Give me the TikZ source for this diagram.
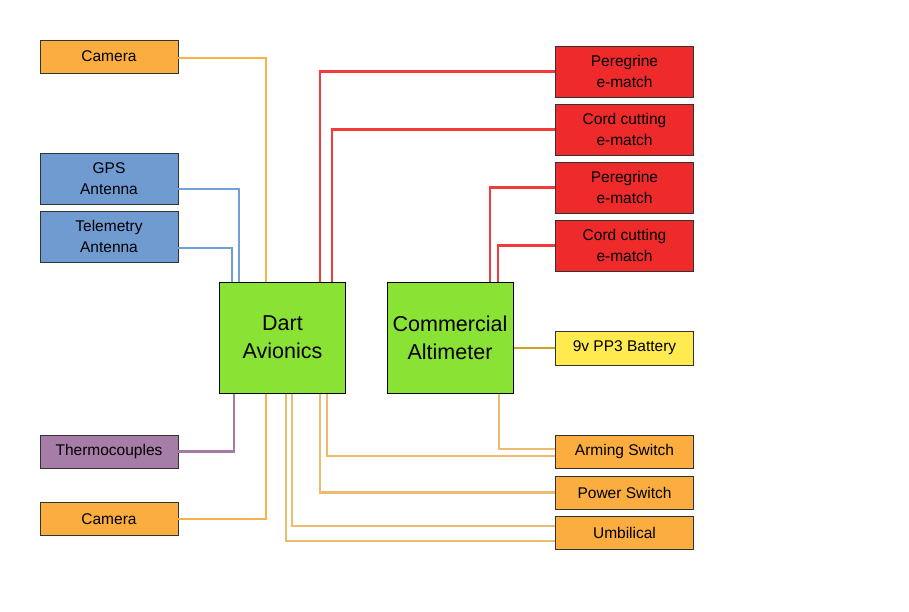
\documentclass[tikz,border=0pt]{standalone}
\usepackage{fontspec}
\setmainfont{Liberation Sans}
\usepackage{tikz}
\definecolor{boxorange}{HTML}{FBAD3F}
\definecolor{boxblue}{HTML}{6F9BD1}
\definecolor{boxred}{HTML}{EE2A2A}
\definecolor{boxgreen}{HTML}{8AE234}
\definecolor{boxpurple}{HTML}{A67DA6}
\definecolor{boxyellow}{HTML}{FFEB4F}
\definecolor{lineorange}{HTML}{FBB24A}
\definecolor{linetan}{HTML}{EDBB6E}
\definecolor{lineblue}{HTML}{6FA0D8}
\definecolor{linered}{HTML}{F23A3A}
\definecolor{linegold}{HTML}{C9A21E}
\definecolor{linepurple}{HTML}{A679A8}

\begin{document}
\begin{tikzpicture}[x=1pt,y=-1pt,
	part_node/.style={draw=black!80,line width=0.9pt,minimum width=138pt,inner sep=0pt,align=center,font=\fontsize{15.5}{21}\selectfont},
	main_node/.style={draw=black,line width=0.9pt,fill=boxgreen,minimum width=126pt,minimum height=111pt,inner sep=0pt,align=center,font=\fontsize{21.5}{28}\selectfont},
	wire/.style={line width=2.1pt}]

	\useasboundingbox (0,0) rectangle (909,612);

	% main units
	\node[main_node] (dart) at (282.5,337.5) {Dart\\Avionics};
	\node[main_node] (alt) at (450,337.5) {Commercial\\Altimeter};

	% left side
	\node[part_node,fill=boxorange,minimum height=33pt] (cam1) at (109,56.5) {Camera};
	\node[part_node,fill=boxblue,minimum height=51pt] (gps) at (109,178.5) {GPS\\Antenna};
	\node[part_node,fill=boxblue,minimum height=51pt] (tlm) at (109,236.5) {Telemetry\\Antenna};
	\node[part_node,fill=boxpurple,minimum height=33pt] (thermo) at (109,451.5) {Thermocouples};
	\node[part_node,fill=boxorange,minimum height=33pt] (cam2) at (109,519) {Camera};

	% right side
	\node[part_node,fill=boxred,minimum height=51pt] (per1) at (624.5,71.5) {Peregrine\\e-match};
	\node[part_node,fill=boxred,minimum height=51pt] (cord1) at (624.5,129.5) {Cord cutting\\e-match};
	\node[part_node,fill=boxred,minimum height=51pt] (per2) at (624.5,187.5) {Peregrine\\e-match};
	\node[part_node,fill=boxred,minimum height=51pt] (cord2) at (624.5,245.5) {Cord cutting\\e-match};
	\node[part_node,fill=boxyellow,minimum height=34pt] (batt) at (624.5,348) {9v PP3 Battery};
	\node[part_node,fill=boxorange,minimum height=33pt] (arm) at (624.5,451.5) {Arming Switch};
	\node[part_node,fill=boxorange,minimum height=33pt] (pwr) at (624.5,492.5) {Power Switch};
	\node[part_node,fill=boxorange,minimum height=33pt] (umb) at (624.5,532.5) {Umbilical};

	% where the wires meet the units
	\coordinate (d_cam1) at (266,282);
	\coordinate (d_gps) at (239,282);
	\coordinate (d_tlm) at (232,282);
	\coordinate (d_per) at (320,282);
	\coordinate (d_cord) at (332,282);
	\coordinate (a_per) at (490,282);
	\coordinate (a_cord) at (498,282);
	\coordinate (d_thermo) at (234,393);
	\coordinate (d_cam2) at (266,393);
	\coordinate (d_arm) at (327,393);
	\coordinate (a_arm) at (499,393);
	\coordinate (d_pwr) at (320,393);
	\coordinate (d_umb1) at (292,393);
	\coordinate (d_umb2) at (286,393);

	\draw[wire,lineorange] ([yshift=-1.5pt]cam1.east) -| (d_cam1);
	\draw[wire,lineblue] ([yshift=-10.5pt]gps.east) -| (d_gps);
	\draw[wire,lineblue] ([yshift=-11.5pt]tlm.east) -| (d_tlm);
	\draw[wire,linered] (per1.west) -| (d_per);
	\draw[wire,linered] (cord1.west) -| (d_cord);
	\draw[wire,linered] (per2.west) -| (a_per);
	\draw[wire,linered] (cord2.west) -| (a_cord);
	\draw[wire,linegold] (alt.east |- batt.west) -- (batt.west);
	\draw[wire,linepurple] (thermo.east) -| (d_thermo);
	\draw[wire,lineorange] (cam2.east) -| (d_cam2);
	\draw[wire,linetan] (a_arm) |- ([yshift=2.5pt]arm.west);
	\draw[wire,linetan] (d_arm) |- ([yshift=-4.5pt]arm.west);
	\draw[wire,linetan] (d_pwr) |- (pwr.west);
	\draw[wire,linetan] (d_umb1) |- ([yshift=6.5pt]umb.west);
	\draw[wire,linetan] (d_umb2) |- ([yshift=-8.5pt]umb.west);

	% redraw units on top of wire ends
	\node[main_node] at (dart) {Dart\\Avionics};
	\node[main_node] at (alt) {Commercial\\Altimeter};
\end{tikzpicture}
\end{document}
